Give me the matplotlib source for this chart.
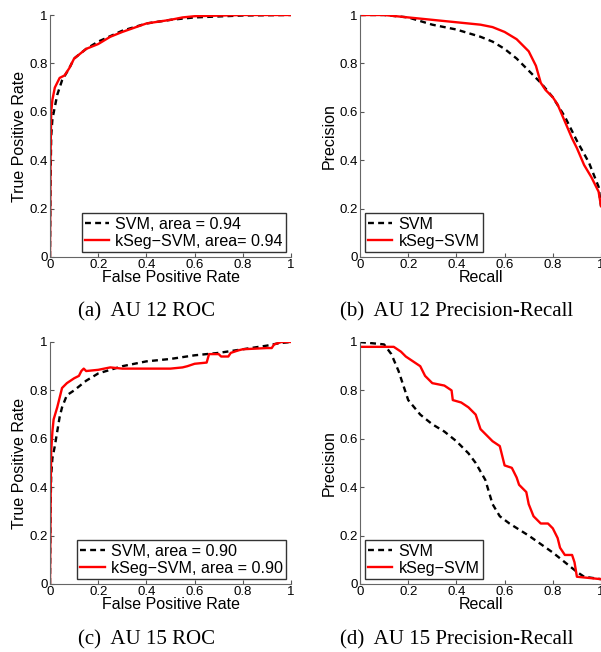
import matplotlib.pyplot as plt

# AU 12 ROC
au12_roc_svm_x = [0, 0.002, 0.005, 0.01, 0.02, 0.03, 0.05, 0.08, 0.1, 0.15, 0.2, 0.3, 0.4, 0.5, 0.6, 0.8, 1.0]
au12_roc_svm_y = [0, 0.30, 0.50, 0.57, 0.62, 0.67, 0.73, 0.78, 0.82, 0.86, 0.89, 0.935, 0.965, 0.98, 0.99, 0.998, 1.0]
au12_roc_kseg_x = [0, 0.002, 0.005, 0.01, 0.02, 0.04, 0.06, 0.08, 0.1, 0.15, 0.2, 0.25, 0.3, 0.4, 0.5, 0.55, 0.6, 0.8, 1.0]
au12_roc_kseg_y = [0, 0.40, 0.60, 0.65, 0.70, 0.74, 0.75, 0.78, 0.82, 0.86, 0.88, 0.91, 0.93, 0.965, 0.98, 0.99, 0.995, 1.0, 1.0]

# AU 12 Precision-Recall
au12_pr_svm_x = [0, 0.1, 0.2, 0.3, 0.4, 0.5, 0.55, 0.6, 0.65, 0.7, 0.75, 0.8, 0.85, 0.9, 0.95, 0.99, 1.0]
au12_pr_svm_y = [1.0, 1.0, 0.99, 0.96, 0.94, 0.91, 0.89, 0.86, 0.82, 0.77, 0.72, 0.66, 0.58, 0.48, 0.39, 0.29, 0.21]
au12_pr_kseg_x = [0, 0.1, 0.2, 0.3, 0.4, 0.5, 0.55, 0.6, 0.65, 0.7, 0.73, 0.75, 0.77, 0.8, 0.82, 0.85, 0.88, 0.9, 0.93, 0.96, 0.99, 1.0]
au12_pr_kseg_y = [1.0, 1.0, 0.99, 0.98, 0.97, 0.96, 0.95, 0.93, 0.90, 0.85, 0.79, 0.72, 0.69, 0.66, 0.63, 0.56, 0.49, 0.45, 0.38, 0.33, 0.27, 0.21]

# AU 15 ROC
au15_roc_svm_x = [0, 0.002, 0.005, 0.01, 0.02, 0.03, 0.04, 0.05, 0.07, 0.1, 0.15, 0.2, 0.3, 0.4, 0.5, 0.6, 0.7, 0.8, 0.9, 0.95, 1.0]
au15_roc_svm_y = [0, 0.30, 0.45, 0.52, 0.57, 0.63, 0.69, 0.73, 0.78, 0.80, 0.84, 0.87, 0.90, 0.92, 0.93, 0.945, 0.955, 0.97, 0.985, 0.995, 1.0]
au15_roc_kseg_x = [0, 0.003, 0.005, 0.01, 0.015, 0.03, 0.04, 0.05, 0.07, 0.1, 0.12, 0.13, 0.14, 0.15, 0.2, 0.25, 0.3, 0.4,
                   0.5, 0.55, 0.57, 0.6, 0.65, 0.66, 0.7, 0.71, 0.74, 0.75, 0.78, 0.8, 0.9, 0.92, 0.93, 0.96, 1.0]
au15_roc_kseg_y = [0, 0.40, 0.55, 0.63, 0.68, 0.73, 0.77, 0.81, 0.83, 0.85, 0.86, 0.88, 0.89, 0.88, 0.885, 0.895, 0.89, 0.89,
                   0.89, 0.895, 0.90, 0.91, 0.915, 0.95, 0.95, 0.94, 0.94, 0.955, 0.965, 0.97, 0.975, 0.975, 0.99, 1.0, 1.0]

# AU 15 Precision-Recall
au15_pr_svm_x = [0, 0.1, 0.13, 0.16, 0.18, 0.2, 0.25, 0.3, 0.35, 0.4, 0.45, 0.48, 0.52, 0.55, 0.58, 0.62, 0.7, 0.8, 0.85, 0.9, 0.93, 1.0]
au15_pr_svm_y = [1.0, 0.99, 0.95, 0.88, 0.82, 0.76, 0.70, 0.66, 0.63, 0.59, 0.54, 0.50, 0.43, 0.33, 0.28, 0.25, 0.20, 0.13, 0.09, 0.05, 0.03, 0.02]
au15_pr_kseg_x = [0, 0.1, 0.14, 0.17, 0.19, 0.22, 0.25, 0.27, 0.3, 0.35, 0.38, 0.385, 0.42, 0.45, 0.48, 0.5, 0.52, 0.55, 0.58,
                  0.6, 0.63, 0.65, 0.66, 0.69, 0.7, 0.72, 0.75, 0.78, 0.8, 0.82, 0.83, 0.85, 0.88, 0.89, 0.9, 0.95, 1.0]
au15_pr_kseg_y = [0.98, 0.98, 0.98, 0.96, 0.94, 0.92, 0.90, 0.86, 0.83, 0.82, 0.80, 0.76, 0.75, 0.73, 0.70, 0.64, 0.62, 0.59, 0.57,
                  0.49, 0.48, 0.44, 0.41, 0.38, 0.33, 0.28, 0.25, 0.25, 0.23, 0.19, 0.15, 0.12, 0.12, 0.09, 0.03, 0.025, 0.02]

captions = ["(a)  AU 12 ROC", "(b)  AU 12 Precision-Recall", "(c)  AU 15 ROC", "(d)  AU 15 Precision-Recall"]

plt.rcParams['font.family'] = ['Liberation Sans', 'DejaVu Sans']

fig = plt.figure(figsize=(6.01, 6.52), dpi=100)

W, H = 601, 652
panels = [
    # left px, top px, xlabel, ylabel, svm, kseg, svm label, kseg label, legend loc
    (50, 15, "False Positive Rate", "True Positive Rate", (au12_roc_svm_x, au12_roc_svm_y),
     (au12_roc_kseg_x, au12_roc_kseg_y), "SVM, area = 0.94", "kSeg\u2212SVM, area= 0.94", "lower right"),
    (360, 15, "Recall", "Precision", (au12_pr_svm_x, au12_pr_svm_y),
     (au12_pr_kseg_x, au12_pr_kseg_y), "SVM", "kSeg\u2212SVM", "lower left"),
    (50, 342, "False Positive Rate", "True Positive Rate", (au15_roc_svm_x, au15_roc_svm_y),
     (au15_roc_kseg_x, au15_roc_kseg_y), "SVM, area = 0.90", "kSeg\u2212SVM, area = 0.90", "lower right"),
    (360, 342, "Recall", "Precision", (au15_pr_svm_x, au15_pr_svm_y),
     (au15_pr_kseg_x, au15_pr_kseg_y), "SVM", "kSeg\u2212SVM", "lower left"),
]

for i, (lx, ty, xl, yl, svm, kseg, lab_svm, lab_kseg, loc) in enumerate(panels):
    w, h = 241, 242
    ax = fig.add_axes([lx / W, (H - ty - h) / H, w / W, h / H])
    ax.plot(svm[0], svm[1], 'k--', lw=1.7, label=lab_svm, dashes=(2.5, 1.8))
    ax.plot(kseg[0], kseg[1], color='red', lw=1.7, label=lab_kseg)
    ax.set_xlim(0, 1)
    ax.set_ylim(0, 1)
    ax.set_xticks([0, 0.2, 0.4, 0.6, 0.8, 1])
    ax.set_yticks([0, 0.2, 0.4, 0.6, 0.8, 1])
    ax.set_xticklabels(['0', '0.2', '0.4', '0.6', '0.8', '1'])
    ax.set_yticklabels(['0', '0.2', '0.4', '0.6', '0.8', '1'])
    ax.tick_params(direction='in', length=3, labelsize=9.5, pad=1.5, color='#555555')
    ax.spines['top'].set_visible(False)
    ax.spines['right'].set_visible(False)
    ax.spines['left'].set_color('#666666')
    ax.spines['bottom'].set_color('#666666')
    ax.set_xlabel(xl, fontsize=11.5, labelpad=-1)
    ax.set_ylabel(yl, fontsize=11.5, labelpad=2)
    leg = ax.legend(loc=loc, fontsize=11.6, frameon=True, fancybox=False, handlelength=1.5,
                    borderaxespad=0.3, borderpad=0.2, labelspacing=0.15, handletextpad=0.4)
    leg.get_frame().set_edgecolor('black')
    leg.get_frame().set_linewidth(1.0)
    cx = (lx + 97) / W
    cy = (H - (312 if i < 2 else 640)) / H
    fig.text(cx, cy, captions[i], ha='center', va='center', fontsize=15,
             family=['Liberation Serif', 'DejaVu Serif'])

fig.savefig('out.png', dpi=100)
